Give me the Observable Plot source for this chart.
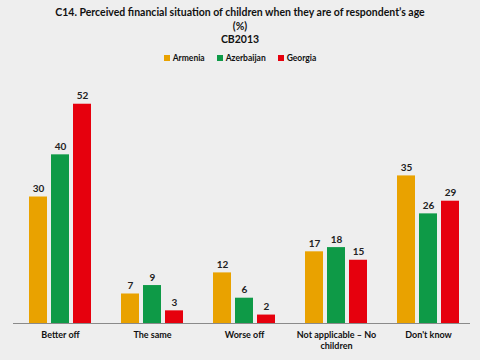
<!DOCTYPE html>
<html><head><meta charset="utf-8">
<script src="https://cdn.jsdelivr.net/npm/d3@7"></script>
<script src="https://cdn.jsdelivr.net/npm/@observablehq/plot@0.6"></script>
<style>
html,body{margin:0;padding:0;background:#eeeeee;width:480px;height:360px;overflow:hidden;font-family:Lato,"Open Sans",sans-serif;color:#111;}
#title{text-align:center;font-weight:bold;font-size:10.5px;line-height:13.5px;padding-top:6px;}
#legend{display:flex;justify-content:center;gap:12px;font-size:8.5px;font-weight:bold;margin-top:5px;height:12px;align-items:center;}
#legend span.sw{display:inline-block;width:6px;height:6px;margin-right:3px;}
#chart{margin-top:3px;}
</style></head>
<body>
<div id="title">C14. Perceived financial situation of children when they are of respondent’s age<br>(%)<br>CB2013</div>
<div id="legend"></div>
<div id="chart"></div>
<script>
const categories = ["Better off","The same","Worse off","Not applicable – No children","Don't know"];
const tickLabels = ["Better off","The same","Worse off","Not applicable – No\nchildren","Don't know"];
const countries = ["Armenia","Azerbaijan","Georgia"];
const colors = ["#E9A200","#0E9A47","#E6000D"];
const armenia = [30,7,12,17,35];
const azerbaijan = [40,9,6,18,26];
const georgia = [52,3,2,15,29];

const series = [armenia, azerbaijan, georgia];
const data = [];
categories.forEach((c,i)=>countries.forEach((k,j)=>data.push({cat:c,country:k,value:series[j][i]})));

const leg = document.getElementById("legend");
countries.forEach((k,j)=>{
  const d=document.createElement("div");
  d.innerHTML=`<span class="sw" style="background:${colors[j]}"></span>${k}`;
  leg.appendChild(d);
});

const plot = Plot.plot({
  width:480, height:292,
  marginLeft:12, marginRight:3, marginTop:3, marginBottom:36,
  style:{background:"transparent", fontFamily:"Lato, 'Open Sans', sans-serif"},
  fx:{domain:categories, paddingInner:0.3, paddingOuter:0.16, label:null, axis:null},
  x:{domain:countries, paddingInner:0.17, paddingOuter:0, axis:null},
  y:{domain:[0,60], axis:null},
  color:{domain:countries, range:colors},
  marks:[
    Plot.barY(data,{fx:"cat", x:"country", y:"value", fill:"country"}),
    Plot.text(data,{fx:"cat", x:"country", y:"value", text:d=>String(d.value), dy:-8, fontWeight:"bold", fontSize:10, fill:"#222"}),
    Plot.axisFx({anchor:"bottom", label:null, tickSize:0, tickPadding:6, fontWeight:"bold", fontSize:9, fill:"#111", lineHeight:1.25,
      tickFormat:d=>tickLabels[categories.indexOf(d)]})
  ]
});
const fx = plot.scale("fx"), y = plot.scale("y");
const svg = d3.select(plot);
svg.append("line")
  .attr("x1", fx.range[0]+1).attr("x2", fx.range[1]-7)
  .attr("y1", y.apply(0)+0.5).attr("y2", y.apply(0)+0.5)
  .attr("stroke","#8a8a8a").attr("stroke-width",1);
document.getElementById("chart").appendChild(plot);
</script>
</body></html>
